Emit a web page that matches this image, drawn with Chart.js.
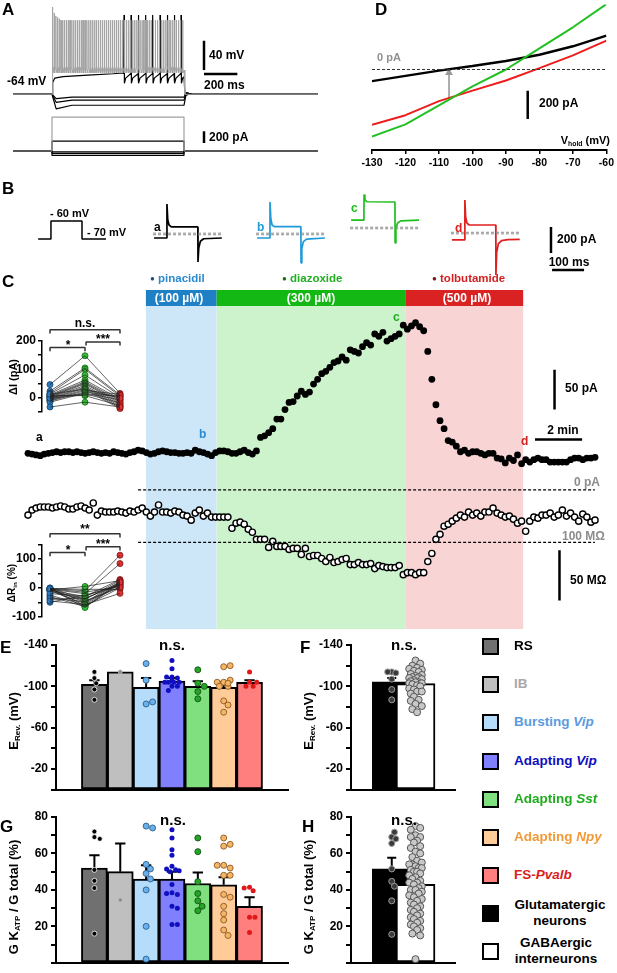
<!DOCTYPE html>
<html>
<head>
<meta charset="utf-8">
<title>KATP figure</title>
<script src="https://cdn.jsdelivr.net/npm/chart.js"></script>
<style>
  body { margin: 0; background: #fff; }
  #fig { position: relative; width: 617px; height: 973px; overflow: hidden;
         font-family: "Liberation Sans", Arial, sans-serif; font-weight: bold; color: #000; }
  #fig canvas { position: absolute; }
  .t { position: absolute; white-space: nowrap; line-height: 1; }
  .t sub { font-size: 62%; vertical-align: -0.3em; line-height: 0; }
  .sq { position: absolute; width: 17px; height: 17px; box-sizing: border-box; border: 2px solid #000; }
</style>
</head>
<body>
<div id="fig"></div>
<script>
// ---------- A: current clamp sweeps (ms, mV, pA)
const stepOnMs = 234, stepOffMs = 1026, sweepEndMs = 1830
const restMv = -64
const graySpikeMs = [238, 247, 257, 267, 277, 288, 298, 309, 320, 331, 342, 353, 364, 375, 386, 397, 409, 420, 432, 443,
  455, 466, 478, 490, 501, 513, 525, 537, 549, 561, 573, 585, 597, 609, 621, 633, 645, 657, 669, 681, 694, 706, 718, 730,
  743, 755, 767, 780, 792, 804, 817, 829, 842, 854, 867, 879, 892, 904, 917, 929, 942, 955, 967, 980, 993, 1005, 1018]
const grayFirstPeaksMv = [55, 47, 43, 41, 39]
const grayPeakMv = 37
const grayTroughMv = -31
const blackOnsetMv = [[238, -48], [250, -42], [300, -40], [450, -38], [600, -36], [662, -35]]
const blackSpikeMs = [666, 708, 752, 796, 838, 882, 926, 968, 1008]
const blackPeakMv = 44, blackTroughMv = -49
const hyperMv = [-68, -72, -79]
const hyperSagMv = [-70, -75, -84]
const injectedPa = [580, 170, -15, -40, -75]

// ---------- B: voltage clamp responses (ms, pA relative)
const protocolMs = [-362, -322, -322, -225, -225, -150]
const protocolMv = [-70, -70, -60, -60, -70, -70]
const bTraceStartMs = [0, 322, 616, 931]
const bTraceA = [[0, 0], [40, 0], [40.5, 262], [43, 140], [47, 100], [54, 85], [137, 85], [137.5, -185], [140, -75], [145, -25], [155, -6], [212, 0]]
const bTraceB = [[0, 0], [40, 0], [40.5, 277], [43, 150], [47, 100], [54, 87], [137, 87], [137.5, -192], [140, -80], [145, -28], [155, -8], [212, 0]]
const bTraceC = [[0, 138], [40, 138], [40.5, 335], [43, 295], [49, 279], [137, 277], [137.5, -38], [140, 70], [145, 115], [155, 132], [212, 138]]
const bTraceD = [[0, -15], [40, -15], [40.5, 292], [43, 160], [47, 115], [54, 100], [137, 100], [137.5, -285], [140, -110], [145, -45], [155, -20], [175, -12], [212, -10]]
const bDashPa = [31, 31, 77, 38]

// ---------- C: time course
const drugNames = ['pinacidil', 'diazoxide', 'tolbutamide']
const drugConc = ['(100 µM)', '(300 µM)', '(500 µM)']
const drugStartMin = [5, 8, 16]
const drugEndMin = [8, 16, 21]
const sampleMin = 0.173
const currentPa = [46, 45, 44, 43, 45, 46, 47, 48, 47, 48, 48, 47, 48, 47, 46, 47, 48, 47, 46, 47,
  46, 48, 47, 46, 45, 47, 48, 50, 49, 47, 45, 46, 48, 49, 48, 47, 47, 46, 46, 47,
  46, 50, 48, 47, 45, 43, 47, 49, 49, 48, 46, 46, 48, 50, 47, 45, 49,
  66, 68, 72, 77, 89, 89, 101, 110, 111, 118, 124, 120, 123, 133, 139, 146, 149, 154, 160, 162,
  167, 163, 176, 174, 172, 180, 185, 182, 196, 193, 198, 187, 190, 193, 196, 207, 202, 206, 210, 205,
  200, 174, 139, 107, 87, 77, 62, 60, 55, 48, 50, 46, 48, 48, 46, 44, 46, 46, 40, 39,
  34, 40, 37, 44, 33, 38, 35, 38, 40, 38, 38, 35, 35, 35, 35, 35, 38, 40, 40, 38, 40, 40, 41]
const resistanceMohm = [127, 132, 134, 135, 135, 135, 134, 135, 136, 135, 133, 133, 135, 136, 134, 132, 139, 127, 131, 130,
  130, 130, 131, 130, 129, 131, 130, 132, 134, 130, 126, 130, 137, 130, 130, 129, 131, 130, 127, 126,
  122, 129, 132, 126, 129, 125, 125, 125, 125, 125, 114, 119, 120, 118, 113, 110, 103, 103, 103, 95,
  101, 96, 96, 96, 93, 94, 94, 88, 94, 86, 87, 87, 84, 81, 85, 80, 81, 83, 84, 78,
  78, 80, 78, 78, 79, 74, 77, 76, 75, 75, 75, 77, 68, 70, 70, 68, 70, 70, 81, 89,
  103, 108, 116, 118, 121, 124, 127, 125, 130, 127, 129, 126, 130, 130, 134, 129, 127, 125, 126, 123,
  119, 121, 111, 121, 125, 124, 127, 127, 129, 125, 127, 132, 126, 129, 125, 121, 128, 125, 120, 122]
const deltaIPin = [46, 23, 16, 13, 10, 7, 5, 2, 0, -3, -5, -8, -10, -12, -16, 3, 8, -2, 12, -33]
const deltaIDia = [148, 105, 100, 80, 62, 56, 52, 49, 43, 38, 34, 29, 25, 20, 16, 13, 7, 10, 30, -16]
const deltaITol = [15, 10, 5, 0, -5, -10, -15, -20, -25, -30, -35, -39, 12, 3, -8, -18, -28, 8, -2, -33]
const deltaRPin = [-2, -5, -8, 0, -3, -10, -25, -30, -40, -50, -4, -6, -1, -2, -7, -12, -20, -35, -45, -3]
const deltaRDia = [-10, -20, -30, -40, -50, -55, -60, -65, -35, -25, -15, -45, -62, -5, 5, -38, -28, -48, -58, -68]
const deltaRTol = [113, 84, 29, 26, 22, 19, 16, 13, 10, 8, 5, 3, 0, -5, 25, 18, 12, 2, -19, 20]

// ---------- D: ramps
const dVhold = [-130, -120, -110, -100, -90, -80, -70, -60]
const dControlPa = [-83, -45, -8, 25, 60, 105, 165, 240]
const dDiazoxidePa = [-476, -390, -255, -120, 0, 150, 300, 465]
const dTolbutamidePa = [-393, -325, -225, -150, -78, 10, 100, 205]
const dArrowMv = -107, dArrowFromPa = -205, dArrowToPa = -6

// ---------- E-H: per subtype / class
const subtypeNames = ['RS', 'IB', 'Bursting Vip', 'Adapting Vip', 'Adapting Sst', 'Adapting Npy', 'FS-Pvalb']
const erevMean = [-102, -114, -99, -105, -100, -99, -104]
const erevSem = [4, 0, 9, 3, 5, 5, 2]
const erevCells = [
  [-108, -114, -103, -97, -87],
  [-114],
  [-122, -106, -83, -85],
  [-125, -117, -109, -108, -109, -104, -104, -104, -104, -100, -100, -96, -106],
  [-116, -103, -100, -95, -88],
  [-119, -120, -104, -106, -104, -100, -100, -86, -82, -75, -103],
  [-114, -104, -100, -100, -104]]
const gkMean = [52, 50, 46, 46, 43.5, 42.8, 31]
const gkSem = [7, 15.5, 7.5, 4, 6, 4.2, 5]
const gkCells = [
  [72, 69, 68, 51, 45, 41, 16],
  [34.5],
  [75, 74, 54, 51.5, 49, 46, 40, 20, 2],
  [73, 68.5, 62, 59, 53, 51, 51.5, 50, 50.5, 43, 38.5, 37.5, 38, 31, 30, 21, 21],
  [68.5, 61, 44.5, 38, 34, 31, 28.6],
  [68.5, 64, 65, 53.5, 52, 53.5, 48, 48, 37.5, 36, 31, 27, 23.5, 18, 15],
  [41.5, 39.5, 41, 25, 25, 16.6]]
const classNames = ['Glutamatergic neurons', 'GABAergic interneurons']
const classErevMean = [-104.5, -102.7]
const classErevSem = [3.5, 1.8]
const classErevCells = [
  [-114, -113, -114, -107, -97, -87],
  [-125, -122, -120, -118, -117, -116, -115, -114, -112, -111, -110, -109, -109, -108, -108, -107, -106, -105, -104,
   -104, -103, -103, -102, -101, -100, -98, -97, -95, -95, -93, -90, -87, -86, -83, -81, -78, -75]]
const classGkMean = [51.5, 43]
const classGkSem = [6.2, 2.7]
const classGkCells = [
  [69, 71.7, 68, 65.5, 51.5, 44.7, 42, 34, 15.6],
  [75, 74, 73, 70, 69, 69, 67, 66, 64, 63, 61, 60, 58, 56, 55, 54, 54, 53, 52, 52, 51, 50, 50, 49, 48, 47, 46, 45, 44, 44,
   43, 42, 41, 40, 40, 39, 38, 37, 36, 35, 34, 33, 32, 31, 30, 29, 28, 27, 26, 25, 24, 23, 22, 21, 20, 19, 18, 16, 15, 2]]

// ---------- styles
const barFill = ['#707070', '#bfbfbf', '#b5dcfa', '#8080ff', '#80e080', '#ffcc99', '#ff7f7f']
const dotFill = ['#000', '#8a8a8a', '#6ab0ea', '#1010c0', '#25a525', '#f6b469', '#e01818']
const dotLine = ['#fff', '#bbb', '#2b5d8a', '#1010c0', '#145214', '#8b5a1f', '#e01818']
const dotLineW = [0.8, 0.8, 0.9, 0, 0.9, 0.9, 0]
const dotR = [2.5, 2, 3, 2.5, 3, 3, 2.5]
const legendText = ['RS', 'IB', 'Bursting <i>Vip</i>', 'Adapting <i>Vip</i>', 'Adapting <i>Sst</i>', 'Adapting <i>Npy</i>', 'FS-<i>Pvalb</i>']
const legendColor = ['#000', '#a8a8a8', '#5a9be0', '#0f0fc0', '#1fad1f', '#f29a38', '#d81e1e']
const drugBar = ['#1f80c6', '#14b814', '#da2222']
const drugShade = ['#cde6f8', '#cdf3cd', '#f8d4d4']
const drugText = ['#2a8ad0', '#22b022', '#d42020']
const drugDot = ['#1f4e87', '#1a6e1a', '#7a1515']
const font = '"Liberation Sans", Arial, sans-serif'

Chart.defaults.font.family = font
Chart.defaults.font.weight = 'bold'
Chart.defaults.color = '#000'
Chart.defaults.animation = false
Chart.defaults.responsive = false
Chart.defaults.devicePixelRatio = 1
Chart.defaults.plugins.legend.display = false
Chart.defaults.plugins.tooltip.enabled = false
Chart.defaults.events = []

const fig = document.getElementById('fig')

function canvasAt(l, t, w, h){
  const c = document.createElement('canvas')
  c.width = w; c.height = h
  c.style.left = l + 'px'; c.style.top = t + 'px'
  c.style.width = w + 'px'; c.style.height = h + 'px'
  fig.appendChild(c)
  return c
}

function txt(html, x, y, o = {}){
  const d = document.createElement('div')
  d.className = 't'
  d.innerHTML = html
  d.style.left = x + 'px'; d.style.top = y + 'px'
  d.style.fontSize = (o.size || 12) + 'px'
  if(o.color) d.style.color = o.color
  if(o.weight) d.style.fontWeight = o.weight
  if(o.center) d.style.textAlign = 'center'
  if(o.lh) d.style.lineHeight = o.lh
  const ax = o.align == 'center' ? '-50%' : o.align == 'right' ? '-100%' : '0'
  d.style.transform = 'translate(' + ax + ',-50%)' + (o.rot ? ' rotate(' + o.rot + 'deg)' : '')
  fig.appendChild(d)
}

function hid(min, max){ return {type: 'linear', display: false, min: min, max: max} }

function pts(arr, dx = 0){ return arr.map(p => ({x: p[0] + dx, y: p[1]})) }

function lineSet(data, color, width, yId, dash){
  return {type: 'scatter', showLine: true, data: data, borderColor: color, borderWidth: width, pointRadius: 0,
    yAxisID: yId, borderDash: dash || [], tension: 0, spanGaps: false, borderJoinStyle: 'bevel'}
}

// ---------- A
function grayTrace(){
  const p = [[0, restMv], [stepOnMs, restMv], [stepOnMs + 2, grayTroughMv]]
  graySpikeMs.forEach((s, i) => {
    const pk = i < grayFirstPeaksMv.length ? grayFirstPeaksMv[i] : grayPeakMv
    p.push([s - 1, grayTroughMv + 4], [s, pk], [s + 1.5, grayTroughMv - 4])
  })
  p.push([stepOffMs, grayTroughMv], [stepOffMs + 5, restMv], [sweepEndMs, restMv])
  return p
}
function blackTrace(){
  const p = [[0, restMv], [stepOnMs, restMv]]
  blackOnsetMv.forEach(q => p.push(q))
  blackSpikeMs.forEach(s => { p.push([s - 2, -36], [s, blackPeakMv], [s + 2.5, blackTroughMv], [s + 10, -42]) })
  p.push([stepOffMs, -40], [stepOffMs + 6, -66], [stepOffMs + 30, restMv], [sweepEndMs, restMv])
  return p
}
function drawA(){
  const c = canvasAt(0, 0, 320, 170)
  const ds = []
  injectedPa.forEach((I, i) => {
    ds.push(lineSet(pts([[0, 0], [stepOnMs, 0], [stepOnMs, I], [stepOffMs, I], [stepOffMs, 0], [sweepEndMs, 0]]), i == 0 ? '#a0a0a0' : '#000', 1.2, 'yI'))
  })
  ds.push(lineSet(pts(grayTrace()), '#a3a3a3', 1, 'yV'))
  hyperMv.forEach((v, i) => {
    ds.push(lineSet(pts([[0, restMv], [stepOnMs, restMv], [stepOnMs + 25, hyperSagMv[i]], [stepOnMs + 120, v], [stepOffMs, v], [stepOffMs + 14, -62], [stepOffMs + 50, restMv], [sweepEndMs, restMv]]), '#000', 1.2, 'yV'))
  })
  ds.push(lineSet(pts(blackTrace()), '#000', 1.2, 'yV'))
  ds.push(lineSet(pts([[1146, -31], [1146, 9]]), '#000', 2.5, 'yV'))
  ds.push(lineSet(pts([[1146, -36.3], [1346, -36.3]]), '#000', 2.5, 'yV'))
  ds.push(lineSet(pts([[1146, 137], [1146, 337]]), '#000', 2.5, 'yI'))
  new Chart(c, {type: 'scatter', data: {datasets: ds},
    options: {scales: {x: hid(-78, 1842), y: {display: false}, yV: hid(-167.3, 64.6), yI: hid(-324.8, 2581)}}})
  txt('A', 2, 9, {size: 17})
  txt('-64 mV', 7, 81)
  txt('40 mV', 209, 55)
  txt('200 ms', 204, 85)
  txt('200 pA', 209, 137)
}

// ---------- B
function drawB(){
  const c = canvasAt(0, 190, 617, 92)
  const traces = [bTraceA, bTraceB, bTraceC, bTraceD]
  const colors = ['#000', '#1f9ad8', '#1fbf1f', '#e02020']
  const ds = []
  traces.forEach((tr, i) => {
    const off = bTraceStartMs[i]
    ds.push(lineSet([{x: off - 3, y: bDashPa[i] + 6}, {x: off + 212, y: bDashPa[i] + 6}], '#8a8a8a', 1, 'yI', [3, 2]))
    ds.push(lineSet([{x: off - 3, y: bDashPa[i] - 6}, {x: off + 212, y: bDashPa[i] - 6}], '#8a8a8a', 1, 'yI', [3, 2]))
    ds.push(lineSet(pts(tr, off), colors[i], 1.7, 'yI'))
  })
  ds.push(lineSet(protocolMs.map((t, i) => ({x: t, y: protocolMv[i]})), '#000', 1.5, 'yV'))
  ds.push(lineSet(pts([[1240.6, -115.4], [1240.6, 84.6]]), '#000', 2.5, 'yI'))
  ds.push(lineSet(pts([[1244, -246], [1344, -246]]), '#000', 2.5, 'yI'))
  new Chart(c, {type: 'scatter', data: {datasets: ds},
    options: {scales: {x: hid(-481.25, 1446.9), y: {display: false}, yI: hid(-338.5, 369.2), yV: hid(-93.9, -42.8)}}})
  txt('B', 2, 188, {size: 17})
  txt('- 60 mV', 50, 213, {size: 11})
  txt('- 70 mV', 87, 232, {size: 11})
  txt('a', 154, 227)
  txt('b', 257, 227, {color: colors[1]})
  txt('c', 351, 208, {color: colors[2]})
  txt('d', 455, 228, {color: colors[3]})
  txt('200 pA', 557, 239)
  txt('100 ms', 569, 262, {align: 'center'})
}

// ---------- C
const drugPlugin = {
  id: 'drugs',
  beforeDatasetsDraw(chart){
    const ctx = chart.ctx, x = chart.scales.x
    drugStartMin.forEach((s, i) => {
      const x0 = x.getPixelForValue(s), x1 = x.getPixelForValue(drugEndMin[i])
      ctx.fillStyle = drugShade[i]
      ctx.fillRect(x0, 36, x1 - x0, 323)
      ctx.fillStyle = drugBar[i]
      ctx.fillRect(x0, 20, x1 - x0, 16)
    })
  }
}
function drawC(){
  const c = canvasAt(0, 270, 617, 370)
  const filled = currentPa.map((v, i) => ({x: i * sampleMin, y: v}))
  const open = resistanceMohm.map((v, i) => ({x: i * sampleMin, y: v}))
  const ds = [
    lineSet([{x: 4.67, y: 0}, {x: 24.04, y: 0}], '#000', 1.2, 'yI', [3, 2]),
    lineSet([{x: 4.67, y: 100}, {x: 24.04, y: 100}], '#000', 1.2, 'yR', [3, 2]),
    lineSet([{x: 22.33, y: 101}, {x: 22.33, y: 151}], '#000', 2.5, 'yI'),
    lineSet([{x: 21.5, y: 63.4}, {x: 23.5, y: 63.4}], '#000', 2.5, 'yI'),
    lineSet([{x: 22.54, y: 42.3}, {x: 22.54, y: 92.3}], '#000', 2.5, 'yR'),
    {type: 'scatter', data: filled, yAxisID: 'yI', pointRadius: 3.4, pointBackgroundColor: '#000', pointBorderWidth: 0},
    {type: 'scatter', data: open, yAxisID: 'yR', pointRadius: 3.1, pointBackgroundColor: '#fff', pointBorderColor: '#000', pointBorderWidth: 1.4}
  ]
  new Chart(c, {type: 'scatter', data: {datasets: ds}, plugins: [drugPlugin],
    options: {scales: {x: hid(-0.9583, 24.75), y: {display: false}, yI: hid(-181.7, 269.5), yR: hid(8.65, 364.4)}}})
  txt('C', 2, 281, {size: 17})
  const labelX = [150, 282, 432]
  drugNames.forEach((n, i) => {
    txt('<span style="color:' + drugDot[i] + ';font-size:8px;vertical-align:1px">●</span> ' + n, labelX[i], 279, {size: 11.5, color: drugText[i]})
    const mid = 23 + (drugStartMin[i] + drugEndMin[i]) / 2 * 24
    txt(drugConc[i], mid, 298, {align: 'center', color: '#fff'})
  })
  txt('a', 36, 437)
  txt('b', 199, 434, {color: drugText[0]})
  txt('c', 393, 317, {color: drugText[1]})
  txt('d', 521, 441, {color: drugText[2]})
  txt('50 pA', 565, 388)
  txt('2 min', 563, 430, {align: 'center'})
  txt('0 pA', 600, 482, {align: 'right', color: '#8c8c8c'})
  txt('100 MΩ', 605, 536, {align: 'right', color: '#8c8c8c'})
  txt('50 MΩ', 570, 580)
}

function bracket(x0, x1, y, leg){
  return [{x: x0, y: y - leg}, {x: x0, y: y}, {x: x1, y: y}, {x: x1, y: y - leg}, {x: x1, y: null}]
}
function drawInset(top, padTop, ymin, ymax, labels, pin, dia, tol, brackets){
  const c = canvasAt(0, top, 135, 106)
  const pairs = []
  pin.forEach((v, i) => { pairs.push({x: 1, y: v}, {x: 2, y: dia[i]}, {x: 3, y: tol[i]}, {x: 3, y: null}) })
  const br = []
  brackets.forEach(b => br.push(...bracket(b[0], b[1], b[2], 13)))
  const grp = (vals, x, fill, edge) => ({type: 'scatter', data: vals.map(v => ({x: x, y: v})), pointRadius: 3,
    pointBackgroundColor: fill, pointBorderColor: edge, pointBorderWidth: 0.8})
  const ds = [
    lineSet(pairs, '#222', 0.7, 'y'),
    grp(pin, 1, '#2b7bc0', '#123f66'),
    grp(dia, 2, '#33c033', '#146614'),
    grp(tol, 3, '#dd3333', '#7a1010'),
    Object.assign(lineSet(br, '#333', 1.5, 'y'), {clip: false})
  ]
  new Chart(c, {type: 'scatter', data: {datasets: ds},
    options: {layout: {padding: {top: padTop, bottom: 4, right: 7, left: 0}},
      scales: {
        x: hid(0.771, 3.229),
        y: {type: 'linear', min: ymin, max: ymax,
          grid: {drawOnChartArea: false, tickLength: 4, color: '#000', lineWidth: 1.5},
          border: {display: true, width: 1.5, color: '#000'},
          ticks: {stepSize: 50, autoSkip: false, padding: 2, color: '#000', font: {size: 12, weight: 'bold'},
            callback: v => labels.includes(v) ? String(v) : ''},
          afterFit: s => { s.width = 42 }}
      }}})
}

// ---------- D
function drawD(){
  const c = canvasAt(320, 0, 297, 175)
  const mk = (arr) => dVhold.map((v, i) => ({x: v, y: arr[i]}))
  const ds = [
    lineSet([{x: -130, y: 0}, {x: -60, y: 0}], '#333', 1, 'y', [3, 2]),
    lineSet(mk(dDiazoxidePa), '#22c022', 2, 'y'),
    lineSet(mk(dTolbutamidePa), '#ee1c1c', 2, 'y'),
    lineSet(mk(dControlPa), '#000', 2.4, 'y'),
    lineSet([{x: dArrowMv, y: dArrowFromPa}, {x: dArrowMv, y: dArrowToPa - 20}], '#999', 1.6, 'y'),
    {type: 'scatter', data: [{x: dArrowMv, y: dArrowToPa - 18}], pointStyle: 'triangle', pointRadius: 4.5,
      pointBackgroundColor: '#999', pointBorderWidth: 0},
    lineSet([{x: -83.5, y: -152}, {x: -83.5, y: -352}], '#000', 2.5, 'y')
  ]
  new Chart(c, {type: 'scatter', data: {datasets: ds},
    options: {layout: {padding: {left: 52, right: 7, top: 0, bottom: 0}},
      scales: {
        x: {type: 'linear', min: -130, max: -60, position: 'bottom',
          ticks: {stepSize: 10, autoSkip: false, padding: 3, maxRotation: 0, color: '#000', font: {size: 10.5, weight: 'bold'}},
          grid: {drawOnChartArea: false, tickLength: 4, color: '#000', lineWidth: 1.5},
          border: {display: true, width: 2, color: '#000'},
          afterFit: s => { s.height = 25 }},
        y: hid(-572.4, 462)
      }}})
  txt('D', 375, 9, {size: 17})
  txt('0 pA', 377, 57, {size: 11, color: '#909090'})
  txt('200 pA', 539, 103)
  txt('V<sub>hold</sub> (mV)', 610, 140, {align: 'right', size: 11})
}

// ---------- E-H
function swarm(vals, pxPerVal, r, maxPx){
  const placed = [], out = []
  const step = r * 0.9
  vals.forEach(v => {
    const py = v * pxPerVal
    let best = 0, bestD = -1
    for(let k = 0; k < 60; k++){
      const dx = (k % 2 ? 1 : -1) * Math.ceil(k / 2) * step
      if(Math.abs(dx) > maxPx) continue
      let md = Infinity
      placed.forEach(p => { const d = Math.hypot(p[0] - dx, p[1] - py); if(d < md) md = d })
      if(md >= 2 * r + 0.6){ best = dx; break }
      if(md > bestD){ bestD = md; best = dx }
    }
    placed.push([best, py])
    out.push(best)
  })
  return out
}
function errData(means, sems, capU){
  const d = []
  means.forEach((m, i) => {
    if(!sems[i]) return
    const e = m < 0 ? m - sems[i] : m + sems[i]
    const x = i + 1
    d.push({x: x - capU, y: e}, {x: x + capU, y: e}, {x: x, y: null}, {x: x, y: m}, {x: x, y: e}, {x: x, y: null})
  })
  return d
}
function barPanel(o){
  const c = canvasAt(o.left, o.top, o.w, o.h)
  const unitPx = (o.w - o.axisW - o.padR) / (o.xmax - o.xmin)
  const ds = [
    {type: 'bar', data: o.means.map((m, i) => ({x: i + 1, y: m})), backgroundColor: o.fills, borderColor: '#000',
      borderWidth: 2, borderSkipped: false, barThickness: o.barW, order: 3},
    {type: 'line', data: errData(o.means, o.sems, o.capU), borderColor: '#000', borderWidth: 2, pointRadius: 0,
      spanGaps: false, order: 2}
  ]
  o.cells.forEach((vals, i) => {
    const offs = swarm(vals, o.pxPerVal, o.r[i], o.spread)
    ds.push({type: 'scatter', data: vals.map((v, j) => ({x: i + 1 + offs[j] / unitPx, y: v})), pointRadius: o.r[i],
      pointBackgroundColor: o.dFill[i], pointBorderColor: o.dLine[i], pointBorderWidth: o.dLineW[i], order: 1})
  })
  new Chart(c, {type: 'bar', data: {datasets: ds},
    options: {layout: {padding: {top: o.padT, right: o.padR, left: 0, bottom: 0}},
      scales: {
        x: {type: 'linear', min: o.xmin, max: o.xmax, grid: {display: false}, ticks: {display: false},
          border: {display: true, width: 2, color: '#000'}, afterFit: s => { s.height = 2 }},
        y: {type: 'linear', min: o.ymin, max: o.ymax, reverse: !!o.reverse,
          grid: {drawOnChartArea: false, drawTicks: true, tickLength: 5, color: '#000', lineWidth: 2},
          border: {display: true, width: 2, color: '#000'},
          ticks: {stepSize: o.step, autoSkip: false, padding: 3, color: '#000', font: {size: 12, weight: 'bold'},
            callback: v => o.labels.includes(v) ? String(v) : ''},
          afterFit: s => { s.width = o.axisW }}
      }}})
}

function drawBars(){
  const sub = {w: 300, axisW: 56, padR: 12, xmin: 0.412, xmax: 7.59, barW: 26, capU: 0.2, spread: 9,
    fills: barFill, r: dotR, dFill: dotFill, dLine: dotLine, dLineW: dotLineW}
  const cls = {w: 160, axisW: 51, padR: 5, xmin: 0.379, xmax: 2.568, barW: 39, capU: 0.19, spread: 15,
    fills: ['#000', '#fff'], r: [3, 3.5], dFill: ['#3a3a3a', '#c8c8c8'], dLine: ['#9a9a9a', '#555'], dLineW: [1, 1]}
  const erev = {top: 630, h: 170, padT: 15, ymin: -140, ymax: 0, reverse: true, step: 20, labels: [-140, -100, -60, -20], pxPerVal: 1.1}
  const gk = {top: 805, h: 168, padT: 12, ymin: 0, ymax: 80, step: 10, labels: [20, 40, 60, 80], pxPerVal: 1.925}
  barPanel(Object.assign({}, sub, erev, {left: 0, means: erevMean, sems: erevSem, cells: erevCells}))
  barPanel(Object.assign({}, sub, gk, {left: 0, means: gkMean, sems: gkSem, cells: gkCells}))
  barPanel(Object.assign({}, cls, erev, {left: 300, means: classErevMean, sems: classErevSem, cells: classErevCells}))
  barPanel(Object.assign({}, cls, gk, {left: 300, means: classGkMean, sems: classGkSem, cells: classGkCells}))

  txt('E', 0, 647, {size: 17})
  txt('n.s.', 172, 644, {size: 15, align: 'center'})
  txt('E<sub>Rev.</sub> (mV)', 13, 721, {size: 13, align: 'center', rot: -90})
  txt('F', 300, 647, {size: 17})
  txt('n.s.', 404, 644, {size: 15, align: 'center'})
  txt('E<sub>Rev.</sub> (mV)', 308, 721, {size: 13, align: 'center', rot: -90})
  txt('G', 0, 826, {size: 17})
  txt('n.s.', 173, 819, {size: 15, align: 'center'})
  txt('G K<sub>ATP</sub> / G total (%)', 13, 897, {size: 13, align: 'center', rot: -90})
  txt('H', 302, 826, {size: 17})
  txt('n.s.', 404, 819, {size: 15, align: 'center'})
  txt('G K<sub>ATP</sub> / G total (%)', 308, 897, {size: 13, align: 'center', rot: -90})

  const rowY = [646, 684, 722, 761, 799, 837, 875, 913, 951]
  const fills = barFill.concat(['#000', '#fff'])
  rowY.forEach((y, i) => {
    const s = document.createElement('div')
    s.className = 'sq'
    s.style.left = '482px'; s.style.top = (y - 8.5) + 'px'; s.style.background = fills[i]
    fig.appendChild(s)
    if(i < 7) txt(legendText[i], 514, y, {size: 13.5, color: legendColor[i]})
  })
  txt('Glutamatergic<br>neurons', 560, 913, {size: 13.5, align: 'center', center: true, lh: 1.15})
  txt('GABAergic<br>interneurons', 556, 951, {size: 13.5, align: 'center', center: true, lh: 1.15})
}

drawA()
drawB()
drawD()
drawC()
drawInset(315, 26, -50, 200, [200, 100, 0], deltaIPin, deltaIDia, deltaITol, [[1, 3, 239.5], [1, 2, 177], [2.03, 3, 196.7]])
drawInset(520, 24.5, -100, 150, [100, 0, -100], deltaRPin, deltaRDia, deltaRTol, [[1, 3, 187], [1, 2, 122.6], [2.03, 3, 142]])
txt('n.s.', 85, 323, {align: 'center'})
txt('*', 68, 345, {align: 'center'})
txt('***', 103, 339, {align: 'center'})
txt('ΔI (pA)', 13, 377, {size: 11, align: 'center', rot: -90})
txt('**', 85, 529, {align: 'center'})
txt('*', 68, 550, {align: 'center'})
txt('***', 103, 544, {align: 'center'})
txt('ΔR<sub>in</sub> (%)', 12, 583, {size: 10, align: 'center', rot: -90})
drawBars()
</script>
</body>
</html>
